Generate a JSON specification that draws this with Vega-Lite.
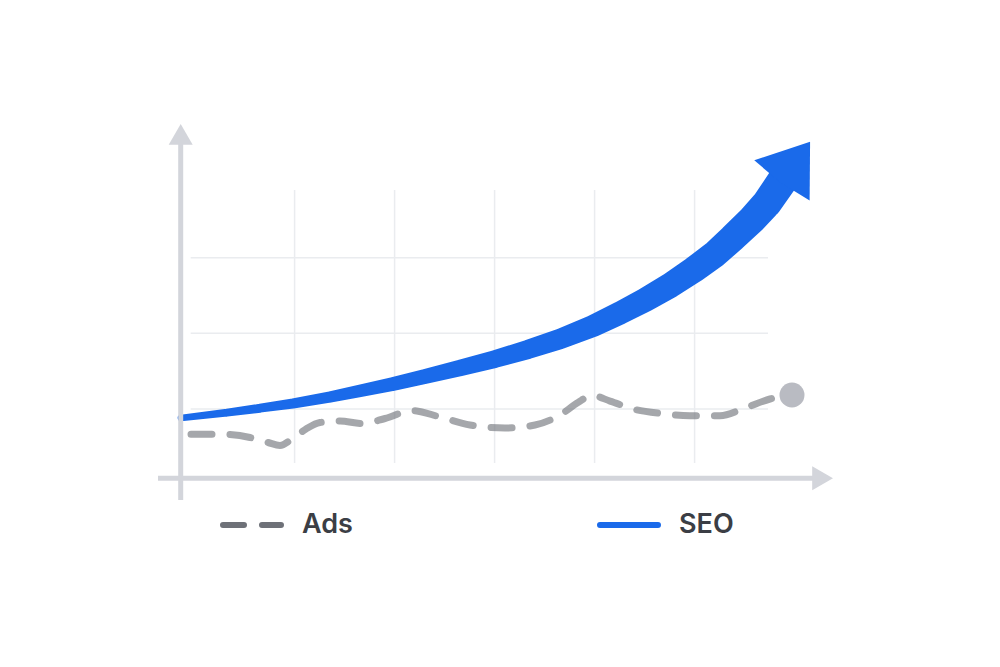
{
  "$schema": "https://vega.github.io/schema/vega-lite/v6.json",
  "width": 1000,
  "height": 667,
  "autosize": "none",
  "padding": 0,
  "background": "#ffffff",
  "config": {"view": {"stroke": null}},
  "datasets": {
    "gridX": [{"x": 1}, {"x": 2}, {"x": 3}, {"x": 4}, {"x": 5}],
    "gridY": [{"y": 1}, {"y": 2}, {"y": 3}],
    "ads": [
      {"series": "Ads", "x": -0.036, "y": 0.664},
      {"series": "Ads", "x": 0.274, "y": 0.664},
      {"series": "Ads", "x": 0.554, "y": 0.622},
      {"series": "Ads", "x": 0.734, "y": 0.556},
      {"series": "Ads", "x": 0.854, "y": 0.516},
      {"series": "Ads", "x": 0.974, "y": 0.602},
      {"series": "Ads", "x": 1.114, "y": 0.734},
      {"series": "Ads", "x": 1.254, "y": 0.82},
      {"series": "Ads", "x": 1.454, "y": 0.84},
      {"series": "Ads", "x": 1.674, "y": 0.807},
      {"series": "Ads", "x": 1.904, "y": 0.873},
      {"series": "Ads", "x": 2.174, "y": 0.979},
      {"series": "Ads", "x": 2.454, "y": 0.893},
      {"series": "Ads", "x": 2.754, "y": 0.787},
      {"series": "Ads", "x": 3.104, "y": 0.747},
      {"series": "Ads", "x": 3.404, "y": 0.787},
      {"series": "Ads", "x": 3.654, "y": 0.919},
      {"series": "Ads", "x": 3.834, "y": 1.085},
      {"series": "Ads", "x": 3.974, "y": 1.177},
      {"series": "Ads", "x": 4.154, "y": 1.104},
      {"series": "Ads", "x": 4.404, "y": 0.992},
      {"series": "Ads", "x": 4.674, "y": 0.939},
      {"series": "Ads", "x": 4.954, "y": 0.91},
      {"series": "Ads", "x": 5.254, "y": 0.91},
      {"series": "Ads", "x": 5.504, "y": 1.012},
      {"series": "Ads", "x": 5.754, "y": 1.131},
      {"series": "Ads", "x": 5.974, "y": 1.184}
    ],
    "seo": [
      {"series": "SEO", "x": -0.136, "y": 0.88},
      {"series": "SEO", "x": 0.324, "y": 0.95},
      {"series": "SEO", "x": 0.654, "y": 1.009},
      {"series": "SEO", "x": 0.984, "y": 1.071},
      {"series": "SEO", "x": 1.354, "y": 1.157},
      {"series": "SEO", "x": 1.654, "y": 1.239},
      {"series": "SEO", "x": 1.984, "y": 1.329},
      {"series": "SEO", "x": 2.304, "y": 1.429},
      {"series": "SEO", "x": 2.654, "y": 1.541},
      {"series": "SEO", "x": 3.004, "y": 1.66},
      {"series": "SEO", "x": 3.334, "y": 1.786},
      {"series": "SEO", "x": 3.654, "y": 1.925},
      {"series": "SEO", "x": 3.984, "y": 2.097},
      {"series": "SEO", "x": 4.254, "y": 2.269},
      {"series": "SEO", "x": 4.504, "y": 2.44},
      {"series": "SEO", "x": 4.754, "y": 2.632},
      {"series": "SEO", "x": 4.994, "y": 2.844},
      {"series": "SEO", "x": 5.204, "y": 3.049},
      {"series": "SEO", "x": 5.384, "y": 3.267},
      {"series": "SEO", "x": 5.574, "y": 3.505},
      {"series": "SEO", "x": 5.724, "y": 3.724},
      {"series": "SEO", "x": 5.974, "y": 4.206}
    ]
  },
  "layer": [
    {
      "data": {"name": "gridX"},
      "mark": {"type": "rule", "color": "#eaecef", "strokeWidth": 1.5},
      "encoding": {
        "x": {"field": "x", "type": "quantitative", "scale": {"domain": [-1.946, 8.054], "nice": false, "zero": false}, "axis": null},
        "y": {"datum": 3.896, "type": "quantitative", "scale": {"domain": [-2.414, 6.409], "nice": false, "zero": false}, "axis": null},
        "y2": {"datum": 0.284}
      }
    },
    {
      "data": {"name": "gridY"},
      "mark": {"type": "rule", "color": "#eaecef", "strokeWidth": 1.5},
      "encoding": {
        "y": {"field": "y", "type": "quantitative"},
        "x": {"datum": -0.039, "type": "quantitative"},
        "x2": {"datum": 5.734}
      }
    },
    {
      "data": {"name": "ads"},
      "mark": {"type": "line", "interpolate": "monotone", "strokeWidth": 7, "strokeCap": "round", "strokeDash": [21, 18], "strokeOpacity": 0.62},
      "encoding": {
        "x": {"field": "x", "type": "quantitative"},
        "y": {"field": "y", "type": "quantitative"},
        "color": {
          "field": "series",
          "type": "nominal",
          "scale": {"domain": ["Ads", "SEO"], "range": ["#6e7178", "#1a6aea"]},
          "legend": {
            "orient": "none",
            "legendX": 220,
            "legendY": 493,
            "direction": "horizontal",
            "title": null,
            "padding": 0,
            "symbolType": "stroke",
            "symbolSize": 3364,
            "symbolStrokeWidth": 6,
            "symbolOpacity": 1,
            "labelFont": "Inter",
            "labelFontSize": 27,
            "labelFontWeight": 600,
            "labelColor": "#3b3e45",
            "labelOffset": 18,
            "columnPadding": 235,
            "encode": {
              "symbols": {
                "update": {
                  "strokeDash": {"signal": "datum.value === 'Ads' ? [21, 18] : [1, 0]"},
                  "strokeCap": {"value": "round"},
                  "strokeWidth": {"value": 6},
                  "strokeOpacity": {"value": 1},
                  "opacity": {"value": 1},
                  "fill": {"value": "transparent"}
                }
              }
            }
          }
        }
      }
    },
    {
      "data": {"name": "ads"},
      "transform": [
        {"joinaggregate": [{"op": "max", "field": "x", "as": "xmax"}]},
        {"filter": "datum.x === datum.xmax"}
      ],
      "mark": {"type": "point", "shape": "circle", "filled": true, "opacity": 1, "size": 625, "color": "#b9bbc2"},
      "encoding": {
        "x": {"field": "x", "type": "quantitative"},
        "y": {"field": "y", "type": "quantitative"}
      }
    },
    {
      "data": {"name": "seo"},
      "mark": {"type": "trail"},
      "encoding": {
        "x": {"field": "x", "type": "quantitative"},
        "y": {"field": "y", "type": "quantitative"},
        "color": {"field": "series", "type": "nominal"},
        "size": {"field": "x", "type": "quantitative", "scale": {"type": "pow", "exponent": 1.15, "domain": [0, 6], "range": [7, 31]}, "legend": null}
      }
    },
    {
      "data": {"name": "seo"},
      "transform": [
        {"joinaggregate": [{"op": "max", "field": "x", "as": "xmax"}]},
        {"filter": "datum.x === datum.xmax"}
      ],
      "mark": {"type": "point", "shape": "M0,-0.9L1,0.5L0,0.58L-1,0.5Z", "filled": true, "opacity": 1, "size": 4679, "angle": 36, "color": "#1a6aea"},
      "encoding": {
        "x": {"field": "x", "type": "quantitative"},
        "y": {"field": "y", "type": "quantitative"}
      }
    },
    {
      "data": {"values": [{}]},
      "mark": {"type": "rule", "color": "#d3d5db", "strokeWidth": 5},
      "encoding": {
        "x": {"datum": -0.139, "type": "quantitative"},
        "y": {"datum": -0.205, "type": "quantitative"},
        "y2": {"datum": 4.631}
      }
    },
    {
      "data": {"values": [{}]},
      "mark": {"type": "rule", "color": "#d3d5db", "strokeWidth": 5},
      "encoding": {
        "y": {"datum": 0.082, "type": "quantitative"},
        "x": {"datum": -0.366, "type": "quantitative"},
        "x2": {"datum": 6.28}
      }
    },
    {
      "data": {"values": [{}]},
      "mark": {"type": "point", "shape": "triangle-up", "filled": true, "opacity": 1, "size": 576, "color": "#d3d5db"},
      "encoding": {
        "x": {"datum": -0.139, "type": "quantitative"},
        "y": {"datum": 4.631, "type": "quantitative"}
      }
    },
    {
      "data": {"values": [{}]},
      "mark": {"type": "point", "shape": "triangle-right", "filled": true, "opacity": 1, "size": 576, "color": "#d3d5db"},
      "encoding": {
        "x": {"datum": 6.28, "type": "quantitative"},
        "y": {"datum": 0.082, "type": "quantitative"}
      }
    }
  ]
}
